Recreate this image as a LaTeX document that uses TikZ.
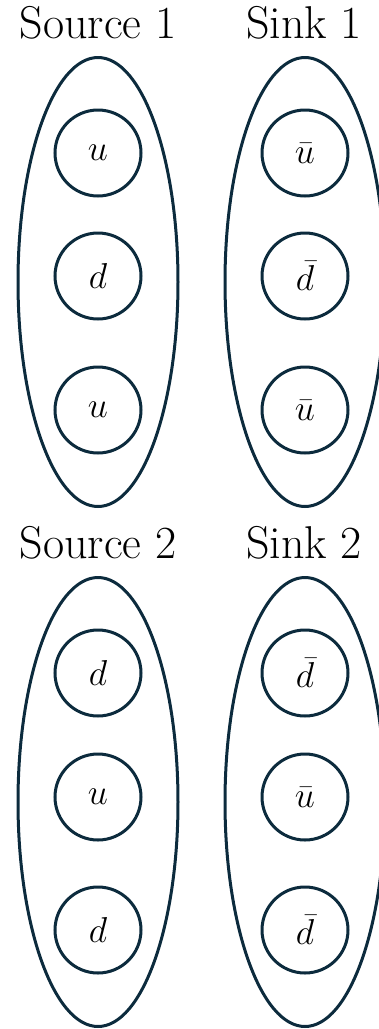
\RequirePackage{fix-cm}
\documentclass[tikz,border=0pt]{standalone}
\usepackage{amsmath}
\usepackage{tikz}
\usetikzlibrary{shapes.geometric, positioning}
\definecolor{deepnavy}{HTML}{0c2b3d}

\begin{document}
\begin{tikzpicture}[x=1pt, y=-1pt,
	group/.style={draw=deepnavy, line width=3pt, ellipse,
		minimum width=160pt, minimum height=449pt, inner sep=0pt},
	quark/.style={draw=deepnavy, line width=3pt, circle,
		minimum size=86pt, inner sep=0pt, font=\fontsize{36}{40}\selectfont},
	title/.style={anchor=base, font=\fontsize{46}{50}\selectfont}]
	\useasboundingbox (0,0) rectangle (379,1029);
	% row one
	\node[title] (src1lbl) at (98,38) {Source 1};
	\node[title] (snk1lbl) at (304,38) {Sink 1};
	\node[group] (src1) at (98,282) {};
	\node[group] (snk1) at (305,282) {};
	\node[quark] (q1a) at (98,153) {$u$};
	\node[quark] (q1b) at (98,276) {$d$};
	\node[quark] (q1c) at (98,410) {$u$};
	\node[quark] (a1a) at (305,153) {$\bar{u}$};
	\node[quark] (a1b) at (305,276) {$\bar{d}$};
	\node[quark] (a1c) at (305,410) {$\bar{u}$};
	% row two
	\node[title] (src2lbl) at (98,558) {Source 2};
	\node[title] (snk2lbl) at (304,558) {Sink 2};
	\node[group] (src2) at (98,802) {};
	\node[group] (snk2) at (305,802) {};
	\node[quark] (q2a) at (98,673) {$d$};
	\node[quark] (q2b) at (98,797) {$u$};
	\node[quark] (q2c) at (98,930) {$d$};
	\node[quark] (a2a) at (305,673) {$\bar{d}$};
	\node[quark] (a2b) at (305,797) {$\bar{u}$};
	\node[quark] (a2c) at (305,930) {$\bar{d}$};
\end{tikzpicture}
\end{document}
